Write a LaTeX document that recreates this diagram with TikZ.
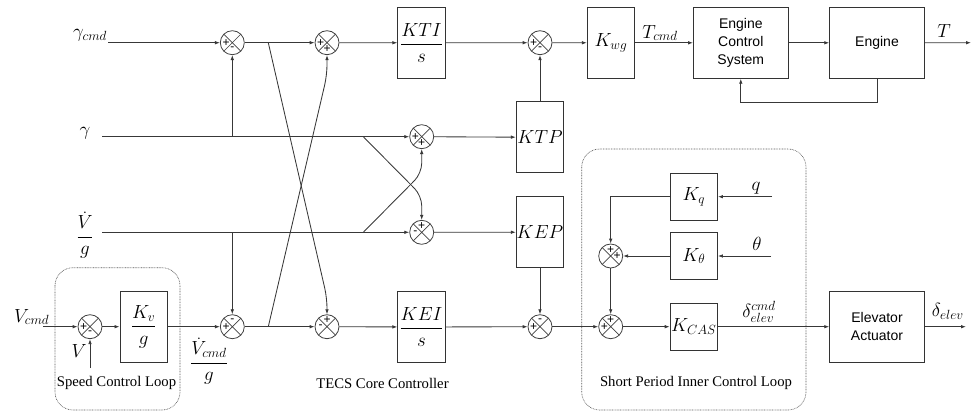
\documentclass[tikz,border=0pt]{standalone}
\usepackage{fix-cm}
\usepackage{amsmath}
\usepackage{fontspec}
\setmainfont{Liberation Serif}
\newfontfamily\arialfont{Liberation Sans}
\usetikzlibrary{arrows.meta,calc}

\tikzset{
  ln/.style={draw=black!78, line width=0.85pt},
  arr/.style={ln, -{Latex[length=5pt,width=3.6pt]}},
  blk/.style={draw=black!80, line width=0.9pt, inner sep=0pt, minimum width=47.4pt, minimum height=71pt, font=\fontsize{19}{22}\selectfont},
  sqblk/.style={blk, minimum height=47.4pt},
  wblk/.style={blk, minimum width=94.6pt, minimum height=71pt, font=\arialfont\fontsize{14}{17.8}\selectfont, align=center},
  sumj/.style={circle, draw=black!75, line width=0.8pt, minimum size=24pt, inner sep=0pt,
    path picture={\draw[black!75, line width=0.7pt] (path picture bounding box.north west) -- (path picture bounding box.south east) (path picture bounding box.north east) -- (path picture bounding box.south west);}},
  sg/.style={font=\arialfont\fontsize{12}{12}\selectfont, inner sep=0pt},
  mlab/.style={font=\fontsize{19}{22}\selectfont, inner sep=0pt},
  tlab/.style={font=\fontsize{14.7}{17}\selectfont, inner sep=0pt},
  grp/.style={draw=black!65, dash pattern=on 0.8pt off 0.8pt, line width=0.6pt, rounded corners=18pt},
}
\newcommand\sgnode[4]{\node[sg] (#1) at ([shift={(#2)}]#3.center) {#4};}

\begin{document}
\begin{tikzpicture}[x=1pt,y=-1pt]
\useasboundingbox (0,0) rectangle (976,414);

% groups
\draw[grp] (55,267.7) rectangle (180,410);
\draw[grp] (581.7,149) rectangle (806,410);

% row 1
\node[sumj] (S1) at (232.3,42.7) {};
\node[sumj] (S2) at (327,42.7) {};
\node[blk] (KTI) at (421.5,42.8) {$\dfrac{KTI}{s}$};
\node[sumj] (S7) at (540,42.7) {};
\node[blk] (Kwg) at (611,42.8) {$K_{wg}$};
\node[wblk] (ECS) at (740.8,42.8) {Engine\\Control\\System};
\node[wblk] (ENG) at (877,42.8) {Engine};
\coordinate (Tend) at (971,42.7);

% row 2
\node[sumj] (S3) at (421.7,136.7) {};
\node[blk] (KTP) at (540,137.3) {$KTP$};

% row 3
\node[sumj] (S4) at (421.7,232.3) {};
\node[blk] (KEP) at (540,232.2) {$KEP$};

% row 4
\node[sumj] (SV) at (90,326.7) {};
\node[blk] (Kv) at (143.7,326.7) {$\dfrac{K_v}{g}$};
\node[sumj] (S5) at (232.3,326.7) {};
\node[sumj] (S6) at (327,326.7) {};
\node[blk] (KEI) at (421.5,327) {$\dfrac{KEI}{s}$};
\node[sumj] (S8) at (540,326.7) {};
\node[sumj] (S10) at (610.7,326.7) {};
\node[sqblk] (KCAS) at (693.8,326.7) {$K_{CAS}$};
\node[wblk] (EA) at (877,326.7) {Elevator\\Actuator};
\coordinate (Dend) at (966,326.7);

% inner loop
\node[sqblk] (Kq) at (693.8,196.7) {$K_q$};
\node[sqblk] (Kth) at (693.8,256) {$K_\theta$};
\node[sumj] (S9) at (610.7,256) {};

% labels
\node[mlab] (Lgc) at (90,35) {$\gamma_{cmd}$};
\node[mlab] (Lg) at (85,133) {$\gamma$};
\node[mlab] (Lvd) at (85,235) {$\dfrac{\dot V}{g}$};
\node[mlab] (Lvc) at (31.7,317) {$V_{cmd}$};
\node[mlab] (LV) at (79,351) {$V$};
\node[mlab] (Lvcg) at (209,361) {$\dfrac{\dot V_{cmd}}{g}$};
\node[mlab] (LT) at (660,33) {$T_{cmd}$};
\node[mlab] (LTo) at (944,31) {$T$};
\node[mlab] (Lq) at (756,188) {$q$};
\node[mlab] (Lth) at (757,244) {$\theta$};
\node[mlab] (Ldc) at (759,312) {$\delta_{elev}^{cmd}$};
\node[mlab] (Lde) at (947.7,311) {$\delta_{elev}$};

\node[tlab] (Tspeed) at (116.5,383) {Speed Control Loop};
\node[tlab] (Ttecs) at (382.5,383) {TECS Core Controller};
\node[tlab] (Tsp) at (696,383) {Short Period Inner Control Loop};

% input coordinates
\coordinate (Igc) at (108,42.7);
\coordinate (Ig) at (102,136.7);
\coordinate (Ivd) at (102,232.3);
\coordinate (Ivc) at (43,326.7);
\coordinate (IV) at (90,368);
\coordinate (Iq) at (772,196.7);
\coordinate (Ith) at (771,256);
\coordinate (B1) at (268.3,42.7);
\coordinate (B2) at (363.3,136.7);
\coordinate (B3) at (363.3,232.3);
\coordinate (B4) at (268.3,326.7);

% row 1 connectors
\draw[arr] (Igc) -- (S1);
\draw[arr] (S1) -- (S2);
\draw[arr] (S2) -- (KTI);
\draw[arr] (KTI) -- (S7);
\draw[arr] (S7) -- (Kwg);
\draw[arr] (Kwg) -- (ECS);
\draw[arr] (ECS) -- (ENG);
\draw[arr] (ENG) -- (Tend);
\draw[arr] (ENG.south) -- ++(0,23.4) -| (ECS.south);

% row 2
\draw[arr] (Ig) -- (S3);
\draw[arr] (S3) -- (KTP);
\draw[arr] (KTP) -- (S7);
\draw[arr] (S1 |- Ig) -- (S1);

% row 3
\draw[arr] (Ivd) -- (S4);
\draw[arr] (S4) -- (KEP);
\draw[arr] (KEP) -- (S8);
\draw[arr] (S5 |- Ivd) -- (S5);

% crossings
\draw[arr, rounded corners=10pt] (B2) -- (421.7,195.7) -- (S4.north);
\draw[arr, rounded corners=10pt] (B3) -- (421.7,173.3) -- (S3.south);
\draw[arr, rounded corners=10pt] (B1) -- (327,298) -- (S6.north);
\draw[arr, rounded corners=10pt] (B4) -- (327,75) -- (S2.south);

% row 4
\draw[arr] (Ivc) -- (SV);
\draw[arr] (IV) -- (SV);
\draw[arr] (SV) -- (Kv);
\draw[arr] (Kv) -- (S5);
\draw[arr] (S5) -- (S6);
\draw[arr] (S6) -- (KEI);
\draw[arr] (KEI) -- (S8);
\draw[arr] (S8) -- (S10);
\draw[arr] (S10) -- (KCAS);
\draw[arr] (KCAS) -- (EA);
\draw[arr] (EA) -- (Dend);

% inner loop
\draw[arr] (Iq) -- (Kq);
\draw[arr] (Ith) -- (Kth);
\draw[arr] (Kq.west) -| (S9.north);
\draw[arr] (Kth) -- (S9);
\draw[arr] (S9) -- (S10);

% signs
\sgnode{S1a}{-6.3,0}{S1}{+}
\sgnode{S1b}{0,6.3}{S1}{-}
\sgnode{S2a}{-6.3,0}{S2}{+}
\sgnode{S2b}{0,6.3}{S2}{+}
\sgnode{S3a}{-6.3,0}{S3}{+}
\sgnode{S3b}{0,6.3}{S3}{+}
\sgnode{S4a}{-6.3,0}{S4}{-}
\sgnode{S4b}{0,-6.3}{S4}{+}
\sgnode{S5a}{-6.3,0}{S5}{+}
\sgnode{S5b}{0,-6.3}{S5}{-}
\sgnode{S6a}{-6.3,0}{S6}{-}
\sgnode{S6b}{0,-6.3}{S6}{+}
\sgnode{SVa}{-6.3,0}{SV}{+}
\sgnode{SVb}{0,6.3}{SV}{-}
\sgnode{S7a}{-6.3,0}{S7}{+}
\sgnode{S7b}{0,6.3}{S7}{-}
\sgnode{S8a}{-6.3,0}{S8}{+}
\sgnode{S8b}{0,-6.3}{S8}{-}
\sgnode{S9a}{0,-6.3}{S9}{+}
\sgnode{S9b}{6.3,0}{S9}{+}
\sgnode{S10a}{-6.3,0}{S10}{+}
\sgnode{S10b}{0,-6.3}{S10}{+}
\end{tikzpicture}
\end{document}
